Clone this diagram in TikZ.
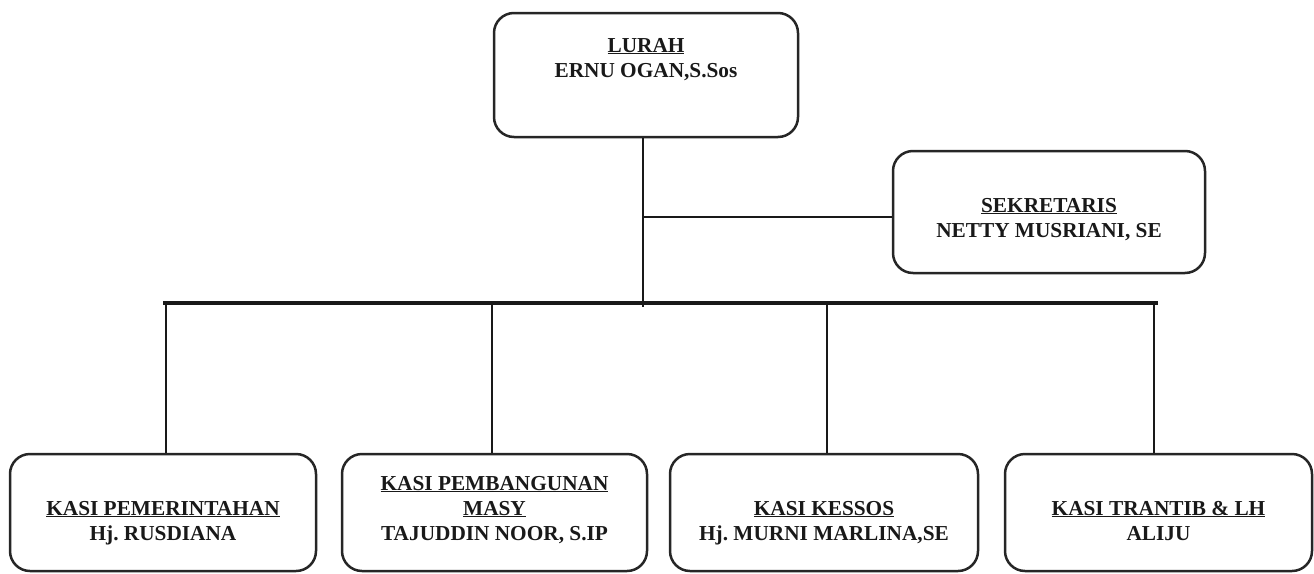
\documentclass[tikz,border=0pt]{standalone}
\usepackage{fontspec}
\setmainfont{Liberation Serif}
\frenchspacing
\begin{document}
\begin{tikzpicture}[x=1pt,y=-1pt,
  box/.style={draw=black!85, line width=2.5pt, rounded corners=20pt, inner sep=0pt},
  txt/.style={font=\fontsize{21.3}{25}\selectfont\bfseries\frenchspacing, align=center, inner sep=0pt, text=black!90, anchor=base},
  con/.style={draw=black!90, line width=2.6pt},
  bar/.style={draw=black!90, line width=4pt}]
\useasboundingbox (0,0) rectangle (1314,573);
% boxes
\node[box, minimum width=304pt, minimum height=124pt] (lurah) at (646,75) {};
\node[box, minimum width=312pt, minimum height=122pt] (sek) at (1049,212) {};
\node[box, minimum width=306pt, minimum height=117pt] (b1) at (163,512.5) {};
\node[box, minimum width=305pt, minimum height=117pt] (b2) at (494.5,512.5) {};
\node[box, minimum width=308pt, minimum height=117pt] (b3) at (824,512.5) {};
\node[box, minimum width=307pt, minimum height=117pt] (b4) at (1158.5,512.5) {};
% texts (base = baseline of the last line)
\node[txt] (tlurah) at (646,77) {\underline{LURAH}\\ERNU OGAN,S.Sos};
\node[txt] (tsek) at (1049,237) {\underline{SEKRETARIS}\\NETTY MUSRIANI, SE};
\node[txt] (tb1) at (163,540) {\underline{KASI PEMERINTAHAN}\\Hj. RUSDIANA};
\node[txt] (tb2) at (494.5,540) {\underline{KASI PEMBANGUNAN}\\\underline{MASY}\\TAJUDDIN NOOR, S.IP};
\node[txt] (tb3) at (824,540) {\underline{KASI KESSOS}\\Hj. MURNI MARLINA,SE};
\node[txt] (tb4) at (1158.5,540) {\underline{KASI TRANTIB \& LH}\\ALIJU};
% connectors
\coordinate (barL) at (163,303);
\coordinate (barR) at (1158,303);
\coordinate (jS) at (643,217);
\coordinate (jB) at (643,307);
\draw[bar] (barL) -- (barR);
\draw[con] (lurah.south -| jS) -- (jB);
\draw[con] (jS) -- (jS -| sek.west);
\draw[con] (166,303) -- (b1.north -| 166,0);
\draw[con] (492,303) -- (b2.north -| 492,0);
\draw[con] (827,303) -- (b3.north -| 827,0);
\draw[con] (1154,303) -- (b4.north -| 1154,0);
\end{tikzpicture}
\end{document}
